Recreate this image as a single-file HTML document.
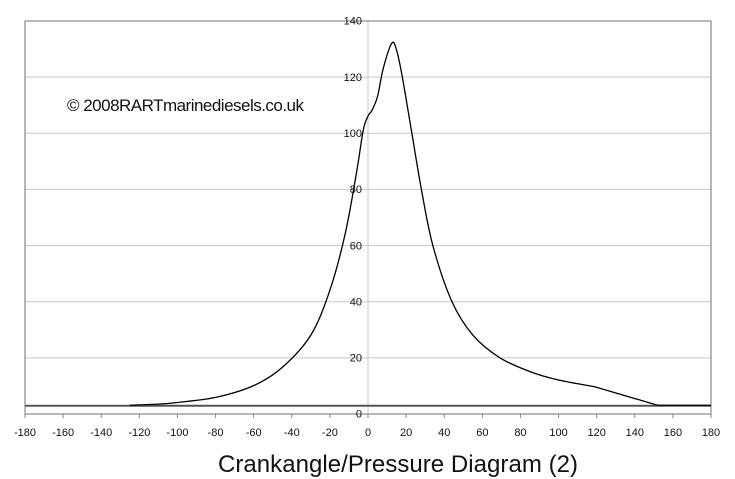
<!DOCTYPE html>
<html><head><meta charset="utf-8"><style>html,body{margin:0;padding:0;background:#fff}svg{display:block}</style></head>
<body>
<svg id="s" width="735" height="479" xmlns="http://www.w3.org/2000/svg" font-family="Liberation Sans, sans-serif">
<g stroke="#c8c8c8" stroke-width="1">
<line x1="25" y1="77.1" x2="711" y2="77.1"/><line x1="25" y1="133.3" x2="711" y2="133.3"/>
<line x1="25" y1="189.4" x2="711" y2="189.4"/><line x1="25" y1="245.6" x2="711" y2="245.6"/>
<line x1="25" y1="301.7" x2="711" y2="301.7"/><line x1="25" y1="357.9" x2="711" y2="357.9"/>
<line x1="368" y1="21" x2="368" y2="414"/>
</g>
<rect x="25" y="21" width="686" height="393" fill="none" stroke="#888" stroke-width="1.2"/>
<g id="ticks" stroke="#888"></g>
<line x1="25" y1="405.7" x2="711" y2="405.7" stroke="#555" stroke-width="2"/>
<g font-size="11" fill="#111" text-anchor="end" id="yl"></g>
<g font-size="11" fill="#111" text-anchor="middle" id="xl"></g>
<path id="c" fill="none" stroke="#000" stroke-width="1.3"/>
<text x="67" y="111" font-size="17" fill="#111" textLength="237">© 2008RARTmarinediesels.co.uk</text>
<text x="218" y="472" font-size="24" fill="#111" textLength="360">Crankangle/Pressure Diagram (2)</text>
</svg>
<script>
var X=function(d){return 368+d*686/360},Y=function(p){return 413.7-p*2.807};
var ns="http://www.w3.org/2000/svg",yl=document.getElementById('yl'),xl=document.getElementById('xl'),tk=document.getElementById('ticks');
for(var p=0;p<=140;p+=20){var t=document.createElementNS(ns,'text');t.setAttribute('x',362);t.setAttribute('y',Y(p)+4);t.textContent=p;yl.appendChild(t);}
for(var d=-180;d<=180;d+=20){var t=document.createElementNS(ns,'text');t.setAttribute('x',X(d));t.setAttribute('y',436);t.textContent=d;xl.appendChild(t);
var l=document.createElementNS(ns,'line');l.setAttribute('x1',X(d));l.setAttribute('x2',X(d));l.setAttribute('y1',414);l.setAttribute('y2',418);tk.appendChild(l);}
var pts=[[-125,3],[-110,3.4],[-100,4],[-80,5.8],[-60,10],[-45,16.5],[-30,28],[-20,44],[-12,64],[-6,86],[-2.5,101],[0,106],[2,108],[5,113],[8,123],[12.5,132],[15,129.5],[18,120],[23,100],[28,80],[34,60],[44,40],[55,28],[69,20],[85,15],[100,12],[119,9.6],[121,9.2],[152,3],[180,3]];
var P=pts.map(function(a){return[X(a[0]),Y(a[1])]});
var s="M"+P[0][0]+","+P[0][1];
for(var i=0;i<P.length-1;i++){var p0=P[i-1]||P[i],p1=P[i],p2=P[i+1],p3=P[i+2]||p2;
if(i>=P.length-3||i==26){s+=" L"+p2[0]+","+p2[1];continue;}
s+=" C"+(p1[0]+(p2[0]-p0[0])/6)+","+(p1[1]+(p2[1]-p0[1])/6)+" "+(p2[0]-(p3[0]-p1[0])/6)+","+(p2[1]-(p3[1]-p1[1])/6)+" "+p2[0]+","+p2[1];}
document.getElementById('c').setAttribute('d',s);
</script>
</body></html>
